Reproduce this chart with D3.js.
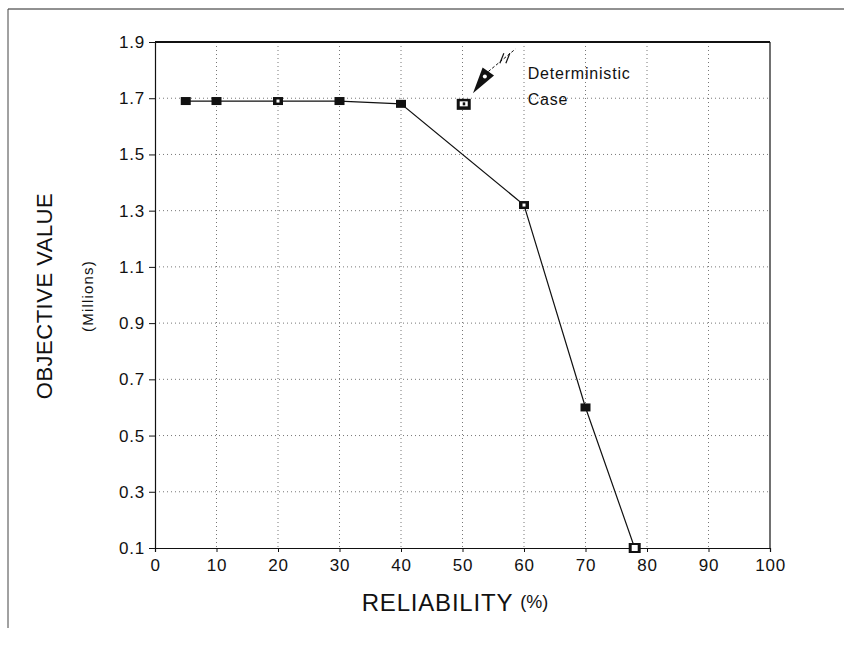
<!DOCTYPE html>
<html><head><meta charset="utf-8">
<script src="https://cdn.jsdelivr.net/npm/d3@7"></script>
<style>
body{margin:0;background:#fff;}
svg text{font-family:"Liberation Sans",Arial,Helvetica,sans-serif;fill:#111;}
</style></head>
<body>
<svg id="c" width="844" height="651"></svg>
<script>
// Data
const reliability = [5, 10, 20, 30, 40, 60, 70, 78];
const objective = [1.69, 1.69, 1.69, 1.69, 1.68, 1.32, 0.60, 0.10];
const deterministicX = [50.2];
const deterministicY = [1.68];
const xTicks = [0,10,20,30,40,50,60,70,80,90,100];
const yTicks = [0.1,0.3,0.5,0.7,0.9,1.1,1.3,1.5,1.7,1.9];
const yTickLabels = ["0.1","0.3","0.5","0.7","0.9","1.1","1.3","1.5","1.7","1.9"];
// annotation (data units): arrow tip, arrow base, dashed tail, text anchor
const arrowTip = [51.7, 1.718];
const arrowBase = [54.2, 1.795];
const arrowTail = [58.6, 1.875];
const noteX = [60.6];
const noteLines = ["Deterministic", "Case"];
const noteY = [1.77, 1.675];

const svg = d3.select("#c");
const L = 155, R = 770, T = 42, B = 548;
const x = d3.scaleLinear().domain([0,100]).range([L,R]);
const y = d3.scaleLinear().domain([0.1,1.9]).range([B,T]);

// outer frame
svg.append("line").attr("x1",8).attr("x2",844).attr("y1",9).attr("y2",9).attr("stroke","#222").attr("stroke-width",1);
svg.append("line").attr("x1",8).attr("x2",8).attr("y1",9).attr("y2",628).attr("stroke","#444").attr("stroke-width",1);

// grid
svg.append("g").selectAll("line").data(xTicks.slice(1,-1)).join("line")
  .attr("x1",d=>x(d)).attr("x2",d=>x(d)).attr("y1",T).attr("y2",B)
  .attr("stroke","#777").attr("stroke-width",1).attr("stroke-dasharray","1,3");
svg.append("g").selectAll("line").data(yTicks.slice(1,-1)).join("line")
  .attr("x1",L).attr("x2",R).attr("y1",d=>y(d)).attr("y2",d=>y(d))
  .attr("stroke","#777").attr("stroke-width",1).attr("stroke-dasharray","1,3");

// axes
const xAxis = svg.append("g").attr("transform",`translate(0,${B})`)
  .call(d3.axisBottom(x).tickValues(xTicks).tickSize(4).tickPadding(7).tickFormat(d3.format("d")));
const yAxis = svg.append("g").attr("transform",`translate(${L},0)`)
  .call(d3.axisLeft(y).tickValues(yTicks).tickSize(6).tickPadding(4).tickFormat((d,i)=>yTickLabels[i]));
[xAxis,yAxis].forEach(a=>{
  a.attr("font-size",null).attr("font-family",null);
  a.select(".domain").attr("stroke","#111").attr("stroke-width",1.2);
  a.selectAll(".tick line").attr("stroke","#111");
  a.selectAll("text").style("font-size","17px").style("letter-spacing","0.8px").attr("fill","#111");
});
// top and right borders
svg.append("line").attr("x1",L).attr("x2",R).attr("y1",T).attr("y2",T).attr("stroke","#111").attr("stroke-width",2);
svg.append("line").attr("x1",R).attr("x2",R).attr("y1",T).attr("y2",B).attr("stroke","#111").attr("stroke-width",1.2);

// series line
const line = d3.line().x((d,i)=>x(reliability[i])).y((d,i)=>y(objective[i]));
svg.append("path").datum(objective).attr("d",line).attr("fill","none").attr("stroke","#111").attr("stroke-width",1.2);

// markers
const mk = svg.append("g").selectAll("g").data(reliability).join("g")
  .attr("transform",(d,i)=>`translate(${x(d)},${y(objective[i])})`);
mk.append("rect").attr("x",(d,i)=>i===7?-6:-5).attr("y",(d,i)=>i===7?-5:-4)
  .attr("width",(d,i)=>i===7?12:10).attr("height",(d,i)=>i===7?10:8).attr("fill","#111");
mk.append("rect").attr("x",(d,i)=>i===7?-3:-1.5).attr("y",(d,i)=>i===7?-3:-1.5)
  .attr("width",(d,i)=>i===7?6:3).attr("height",(d,i)=>i===7?6:3)
  .attr("fill",(d,i)=>(i===2||i===5||i===7)?"#fff":"#111");

// deterministic marker
const dm = svg.append("g").attr("transform",`translate(${x(deterministicX[0])},${y(deterministicY[0])})`);
dm.append("rect").attr("x",-7).attr("y",-5).attr("width",14).attr("height",11).attr("fill","#111");
dm.append("rect").attr("x",-4).attr("y",-2.5).attr("width",8).attr("height",5).attr("fill","#fff");
dm.append("rect").attr("x",-1).attr("y",-1.5).attr("width",2.5).attr("height",3).attr("fill","#111");

// arrow
const tip=[x(arrowTip[0]),y(arrowTip[1])], base=[x(arrowBase[0]),y(arrowBase[1])], tail=[x(arrowTail[0]),y(arrowTail[1])];
const dx=base[0]-tip[0], dy=base[1]-tip[1], len=Math.hypot(dx,dy), nx=-dy/len, ny=dx/len, hw=7;
svg.append("path").attr("d",`M${tip[0]},${tip[1]}L${base[0]+nx*hw},${base[1]+ny*hw}L${base[0]-nx*hw},${base[1]-ny*hw}Z`).attr("fill","#111");
svg.append("circle").attr("cx",base[0]-dx/len*6).attr("cy",base[1]-dy/len*6).attr("r",2).attr("fill","#fff");
svg.append("line").attr("x1",base[0]).attr("y1",base[1]).attr("x2",tail[0]).attr("y2",tail[1])
  .attr("stroke","#111").attr("stroke-width",1).attr("stroke-dasharray","3,2");
// break marks
const mid=[(base[0]+tail[0])/2+3,(base[1]+tail[1])/2-2];
[-3,3].forEach(o=>{
  svg.append("line").attr("x1",mid[0]+o-2).attr("y1",mid[1]+5).attr("x2",mid[0]+o+2).attr("y2",mid[1]-5)
    .attr("stroke","#111").attr("stroke-width",1.2);
});

// note text
svg.append("g").selectAll("text").data(noteLines).join("text")
  .attr("x",x(noteX[0])).attr("y",(d,i)=>y(noteY[i])).style("font-size","16px").style("letter-spacing","0.8px").text(d=>d);

// axis titles
const xt = svg.append("text").attr("x",455).attr("y",611).attr("text-anchor","middle");
xt.append("tspan").style("font-size","24px").style("letter-spacing","0.8px").text("RELIABILITY ");
xt.append("tspan").style("font-size","18px").attr("dy",-3).text("(%)");
svg.append("text").attr("transform","translate(52,296) rotate(-90)").attr("text-anchor","middle")
  .style("font-size","22px").style("letter-spacing","0.5px").text("OBJECTIVE VALUE");
svg.append("text").attr("transform","translate(93,296) rotate(-90)").attr("text-anchor","middle")
  .style("font-size","15px").style("letter-spacing","1.2px").text("(Millions)");
</script>
</body></html>
